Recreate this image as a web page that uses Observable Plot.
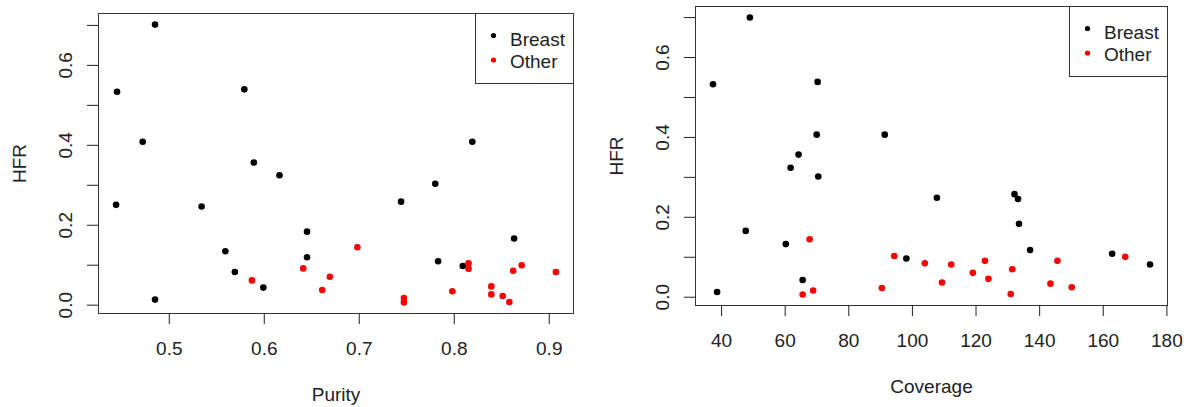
<!DOCTYPE html>
<html>
<head>
<meta charset="utf-8">
<script src="https://cdn.jsdelivr.net/npm/d3@7"></script>
<script src="https://cdn.jsdelivr.net/npm/@observablehq/plot@0.6"></script>
<style>
  body { margin: 0; background: #fff; }
  #wrap { position: relative; width: 1184px; height: 407px; overflow: hidden; }
  .panel { position: absolute; top: 0; }
  #legend { position: absolute; left: 0; top: 0; pointer-events: none; }
</style>
</head>
<body>
<div id="wrap"></div>
<script>
// ---- data ----
const groups = ["Breast", "Other"];
const groupColors = ["#000000", "#ff0000"];

// Left panel: Purity vs HFR
const purityBreast = [0.485, 0.445, 0.579, 0.472, 0.589, 0.616, 0.444, 0.534, 0.645, 0.559, 0.645, 0.569, 0.599, 0.485, 0.819, 0.780, 0.744, 0.863, 0.783, 0.809];
const hfrPurityBreast = [0.702, 0.534, 0.540, 0.409, 0.357, 0.325, 0.251, 0.247, 0.184, 0.135, 0.120, 0.083, 0.044, 0.014, 0.409, 0.304, 0.259, 0.167, 0.110, 0.098];
const purityOther = [0.587, 0.641, 0.669, 0.661, 0.698, 0.815, 0.815, 0.871, 0.862, 0.907, 0.798, 0.839, 0.839, 0.851, 0.858, 0.747, 0.747];
const hfrPurityOther = [0.062, 0.092, 0.071, 0.038, 0.145, 0.105, 0.091, 0.100, 0.086, 0.083, 0.035, 0.047, 0.027, 0.023, 0.008, 0.018, 0.007];

// Right panel: Coverage vs HFR
const coverageBreast = [48.9, 37.3, 70.2, 69.9, 91.3, 64.2, 61.7, 70.4, 47.6, 60.2, 65.5, 38.6, 98.1, 107.7, 132.1, 133.2, 133.5, 137.0, 162.8, 174.7];
const hfrCoverageBreast = [0.700, 0.533, 0.539, 0.407, 0.407, 0.357, 0.324, 0.302, 0.166, 0.133, 0.043, 0.013, 0.097, 0.249, 0.258, 0.246, 0.184, 0.118, 0.109, 0.082];
const coverageOther = [67.7, 65.5, 68.8, 90.4, 94.3, 103.9, 112.2, 109.3, 119.0, 122.8, 123.9, 131.4, 130.9, 143.4, 145.6, 150.1, 166.9];
const hfrCoverageOther = [0.145, 0.007, 0.017, 0.023, 0.103, 0.085, 0.082, 0.037, 0.061, 0.091, 0.046, 0.070, 0.008, 0.034, 0.091, 0.025, 0.101];

// tick values / labels
const purityTicks = [0.5, 0.6, 0.7, 0.8, 0.9];
const coverageTicks = [40, 60, 80, 100, 120, 140, 160, 180];
const hfrTicks = [0, 0.1, 0.2, 0.3, 0.4, 0.5, 0.6, 0.7];
const hfrLabelTicks = [0, 0.2, 0.4, 0.6];

const FONT = "'Liberation Sans', Arial, Helvetica, sans-serif";
const INK = "#222";

// R-style axis range: data extent padded by 4%
function rRange(values) {
  const [a, b] = d3.extent(values);
  const pad = (b - a) * 0.04;
  return [a - pad, b + pad];
}

function makeRows(xsByGroup, ysByGroup) {
  return groups.flatMap((g, i) => xsByGroup[i].map((x, j) => ({x, y: ysByGroup[i][j], group: g})));
}

function panel({rows, xTicks, xFormat, xLabel, width, height, margins}) {
  return Plot.plot({
    width, height,
    marginLeft: margins[0], marginRight: margins[1], marginTop: margins[2], marginBottom: margins[3],
    style: {fontFamily: FONT, fontSize: "19px", color: INK, background: "transparent", overflow: "visible"},
    x: {domain: rRange(rows.map(d => d.x))},
    y: {domain: rRange(rows.map(d => d.y))},
    color: {domain: groups, range: groupColors},
    marks: [
      Plot.frame({stroke: "#333"}),
      Plot.axisX({ticks: xTicks, tickSize: 11, tickPadding: 17, tickFormat: xFormat,
        label: xLabel, labelAnchor: "center", labelArrow: "none", labelOffset: 87, fontSize: 19}),
      Plot.axisY({ticks: hfrTicks, tickSize: 11, tickFormat: () => "", label: null}),
      Plot.axisY({ticks: hfrLabelTicks, tickSize: 0, tickPadding: 27, tickRotate: -90, tickFormat: d3.format(".1f"),
        label: "HFR", labelAnchor: "center", labelArrow: "none", labelOffset: 86, fontSize: 19}),
      Plot.dot(rows, {x: "x", y: "y", fill: "group", r: 3.3})
    ]
  });
}

const wrap = document.getElementById("wrap");

const left = panel({
  rows: makeRows([purityBreast, purityOther], [hfrPurityBreast, hfrPurityOther]),
  xTicks: purityTicks, xFormat: d3.format(".1f"), xLabel: "Purity",
  width: 590, height: 407, margins: [98, 17, 13, 94]
});
left.classList.add("panel");
left.style.left = "0px";
wrap.appendChild(left);

const right = panel({
  rows: makeRows([coverageBreast, coverageOther], [hfrCoverageBreast, hfrCoverageOther]),
  xTicks: coverageTicks, xFormat: d3.format("d"), xLabel: "Coverage",
  width: 594, height: 407, margins: [105, 17, 6, 102]
});
right.classList.add("panel");
right.style.left = "590px";
wrap.appendChild(right);

// ---- in-plot legends (R legend("topright")) ----
const legendBoxes = [{x: 475, y: 13}, {x: 1069, y: 6}];
const svg = d3.select(wrap).append("svg").attr("id", "legend").attr("width", 1184).attr("height", 407);
legendBoxes.forEach(b => {
  const g = svg.append("g").attr("transform", `translate(${b.x},${b.y})`);
  g.append("rect").attr("x", 0.5).attr("y", 0.5).attr("width", 98).attr("height", 70)
    .attr("fill", "#fff").attr("stroke", "#333");
  groups.forEach((name, i) => {
    g.append("circle").attr("cx", 18.5).attr("cy", 22.5 + i * 24.5).attr("r", 2.6).attr("fill", groupColors[i]);
    g.append("text").attr("x", 35).attr("y", 32.5 + i * 22.8)
      .attr("font-family", FONT).attr("font-size", 19).attr("fill", INK).text(name);
  });
});
</script>
</body>
</html>
